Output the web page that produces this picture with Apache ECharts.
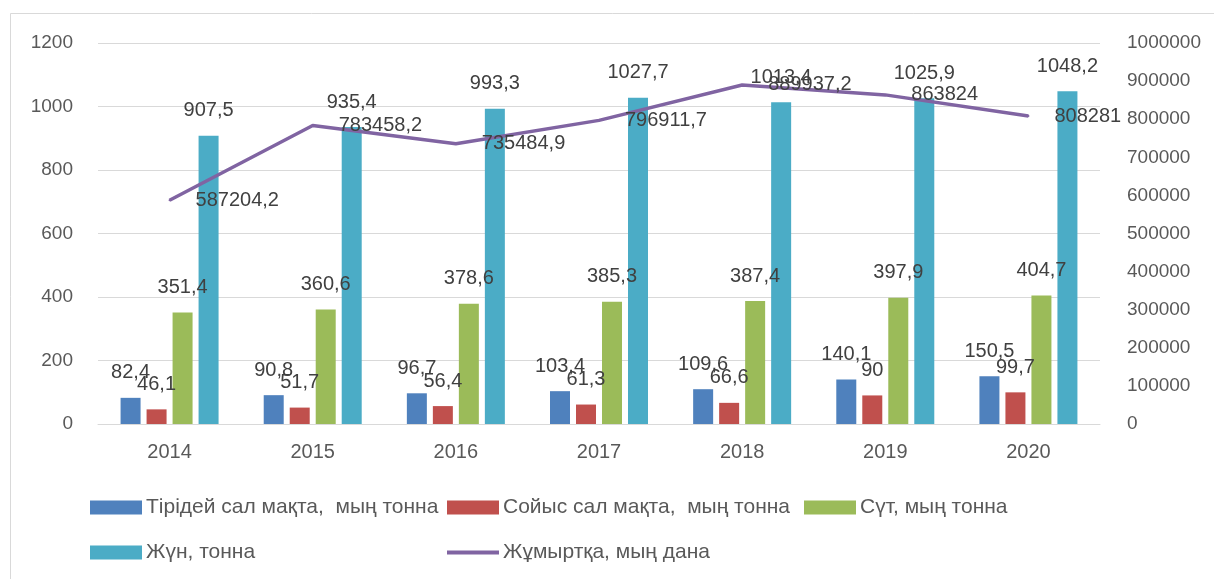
<!DOCTYPE html>
<html>
<head>
<meta charset="utf-8">
<script src="https://cdn.jsdelivr.net/npm/echarts@6/dist/echarts.min.js"></script>
<style>
    html, body {margin: 0; padding: 0; background: #fff;}
    #main {width: 1214px; height: 579px;}
</style>
</head>
<body>
<div id="main"></div>
<script>
// данные диаграммы
var years = ['2014', '2015', '2016', '2017', '2018', '2019', '2020'];
var tiri = [82.4, 90.8, 96.7, 103.4, 109.6, 140.1, 150.5];
var soyis = [46.1, 51.7, 56.4, 61.3, 66.6, 90, 99.7];
var sut = [351.4, 360.6, 378.6, 385.3, 387.4, 397.9, 404.7];
var zhun = [907.5, 935.4, 993.3, 1027.7, 1013.4, 1025.9, 1048.2];
var zhumyrtka = [587204.2, 783458.2, 735484.9, 796911.7, 889937.2, 863824, 808281];
var leftTicks = {min: 0, max: 1200, interval: 200};
var rightTicks = {min: 0, max: 1000000, interval: 100000};

var names = ['Тірідей сал мақта,  мың тонна', 'Сойыс сал мақта,  мың тонна', 'Сүт, мың тонна', 'Жүн, тонна', 'Жұмыртқа, мың дана'];
var colors = ['#4F81BD', '#C0504D', '#9BBB59', '#4BACC6', '#8064A2'];

var FONT = 'Liberation Sans';

// запятая вместо точки
var fmt = function (p) {
    return String(p.value).replace('.', ',');
};
// без разделителей тысяч
var plain = function (v) {
    return String(v);
};

var barLabel = {
    show: true,
    position: 'top',
    distance: 15,
    color: '#404040',
    fontFamily: FONT,
    fontSize: 20,
    formatter: fmt
};

var makeBar = function (i, data) {
    return {
        name: names[i],
        type: 'bar',
        barWidth: 20,
        barGap: '30%',
        itemStyle: {color: colors[i]},
        label: barLabel,
        data: data
    };
};

// позиции легенды (как колонки в Excel)
var legendPos = [[90, 497], [447, 497], [804, 497], [90, 542], [447, 542]];
var legends = legendPos.map(function (p, i) {
    return {
        left: p[0],
        top: p[1],
        padding: 0,
        itemWidth: 52,
        itemHeight: i == 4 ? 4 : 14,
        icon: 'rect',
        itemGap: 0,
        textStyle: {color: '#595959', fontFamily: FONT, fontSize: 21, padding: [0, 0, 0, -1]},
        data: [names[i]]
    };
});

var myChart = echarts.init(document.getElementById('main'));
var option = {
    animation: false,
    backgroundColor: '#fff',
    graphic: [{
        type: 'rect',
        shape: {x: 10.5, y: 13.5, width: 1300, height: 700},
        style: {fill: 'none', stroke: '#d9d9d9', lineWidth: 1},
        z: -1
    }],
    legend: legends,
    grid: {
        left: 98,
        right: 114,
        top: 43,
        bottom: 155
    },
    xAxis: {
        type: 'category',
        data: years,
        axisTick: {show: false},
        axisLine: {lineStyle: {color: '#d9d9d9'}},
        axisLabel: {color: '#595959', fontFamily: FONT, fontSize: 20, margin: 18}
    },
    yAxis: [
        {
            type: 'value',
            min: leftTicks.min,
            max: leftTicks.max,
            interval: leftTicks.interval,
            axisLine: {show: false},
            axisTick: {show: false},
            splitLine: {lineStyle: {color: '#d9d9d9'}},
            axisLabel: {color: '#595959', fontFamily: FONT, fontSize: 19, margin: 25, formatter: plain}
        },
        {
            type: 'value',
            min: rightTicks.min,
            max: rightTicks.max,
            interval: rightTicks.interval,
            axisLine: {show: false},
            axisTick: {show: false},
            splitLine: {show: false},
            axisLabel: {color: '#595959', fontFamily: FONT, fontSize: 19, margin: 27, formatter: plain}
        }
    ],
    series: [
        makeBar(0, tiri),
        makeBar(1, soyis),
        makeBar(2, sut),
        makeBar(3, zhun),
        {
            name: names[4],
            type: 'line',
            yAxisIndex: 1,
            symbol: 'circle',
            symbolSize: 2,
            itemStyle: {color: colors[4]},
            lineStyle: {color: colors[4], width: 3.5},
            z: 5,
            label: {
                show: true,
                position: 'right',
                distance: 25,
                color: '#404040',
                fontFamily: FONT,
                fontSize: 20,
                formatter: fmt
            },
            data: zhumyrtka
        }
    ]
};

myChart.setOption(option);
</script>
</body>
</html>
